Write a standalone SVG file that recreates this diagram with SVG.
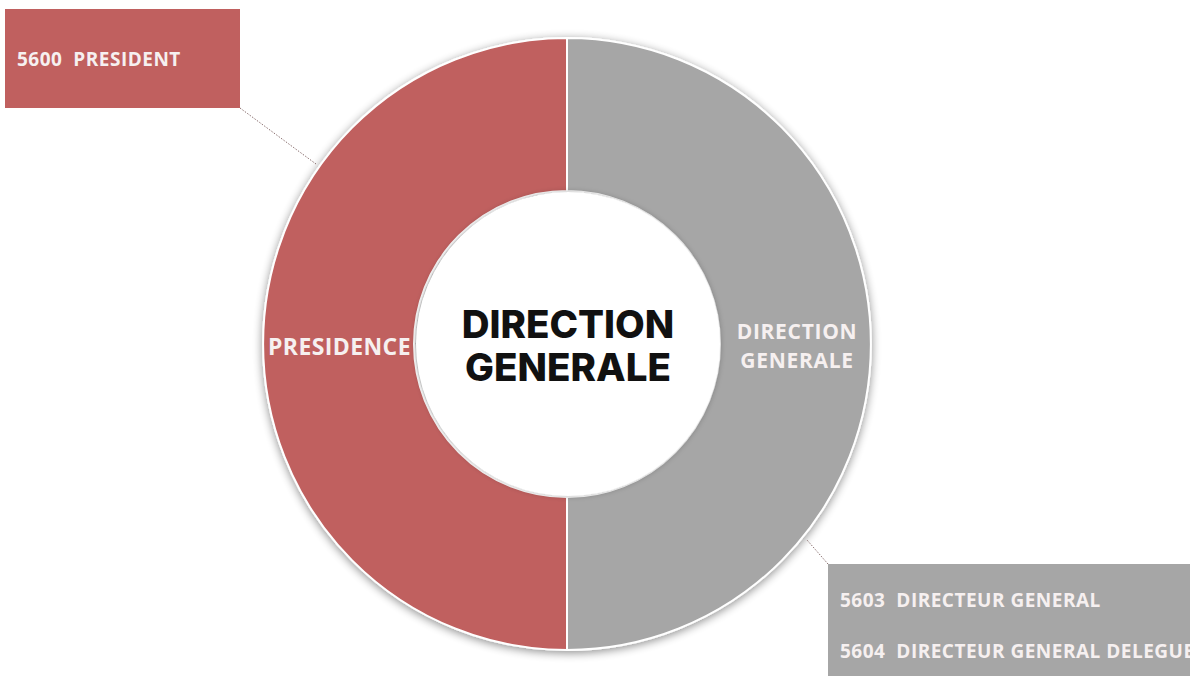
<svg xmlns="http://www.w3.org/2000/svg" width="1194" height="677" viewBox="0 0 1194 677">
<defs>
<filter id="sh" x="-20%" y="-20%" width="140%" height="140%">
<feGaussianBlur in="SourceAlpha" stdDeviation="5"/>
<feOffset dx="0" dy="2"/>
<feComponentTransfer><feFuncA type="linear" slope="0.45"/></feComponentTransfer>
<feMerge><feMergeNode/><feMergeNode in="SourceGraphic"/></feMerge>
</filter>
<filter id="ish" x="-20%" y="-20%" width="140%" height="140%">
<feGaussianBlur in="SourceAlpha" stdDeviation="3"/>
<feComponentTransfer><feFuncA type="linear" slope="0.3"/></feComponentTransfer>
<feMerge><feMergeNode/><feMergeNode in="SourceGraphic"/></feMerge>
</filter>
</defs>
<style>
.seg{stroke:#ffffff;stroke-width:2}
.red{fill:#C0605F}
.gray{fill:#A6A6A6}
.lbl{font-family:"Open Sans","Liberation Sans",sans-serif;font-weight:700;fill:#F6F0F0;white-space:pre}
.box{font-size:19px;letter-spacing:0.5px}
.ctr{font-family:"Inter","Liberation Sans",sans-serif;font-weight:800;fill:#111111;text-anchor:middle;font-size:38.5px}
.conn{stroke:#8A7070;stroke-width:1;stroke-dasharray:1.5 1.5;fill:none}
</style>
<rect width="1194" height="677" fill="#ffffff"/>
<g id="ring" filter="url(#sh)">
<path class="seg red" d="M567,38 A304,306 0 0 0 567,650 L567,497 A153,153 0 0 1 567,191 Z"/>
<path class="seg gray" d="M567,38 A304,306 0 0 1 567,650 L567,497 A153,153 0 0 0 567,191 Z"/>
</g>
<g id="center">
<circle cx="568" cy="344" r="152" fill="#ffffff" filter="url(#ish)"/>
<text class="ctr" x="568" y="338">DIRECTION</text>
<text class="ctr" x="568" y="381">GENERALE</text>
</g>
<g id="presidence-label">
<text class="lbl" x="268" y="355" font-size="23" letter-spacing="0.4">PRESIDENCE</text>
</g>
<g id="dg-label">
<text class="lbl" x="797" y="339" font-size="21" letter-spacing="0.7" text-anchor="middle">DIRECTION</text>
<text class="lbl" x="797" y="368" font-size="21" letter-spacing="0.7" text-anchor="middle">GENERALE</text>
</g>
<g id="connectors">
<line class="conn" x1="240" y1="108" x2="316" y2="164"/>
<line class="conn" x1="828" y1="564" x2="807" y2="540"/>
</g>
<g id="president-box">
<rect x="5" y="9" width="235" height="99" class="red"/>
<text class="lbl box" x="17" y="66" xml:space="preserve">5600  PRESIDENT</text>
</g>
<g id="dg-box">
<clipPath id="cb"><rect x="828" y="564" width="362" height="113"/></clipPath>
<rect x="828" y="564" width="362" height="112" class="gray"/>
<g clip-path="url(#cb)">
<text class="lbl box" x="840" y="607" xml:space="preserve">5603  DIRECTEUR GENERAL</text>
<text class="lbl box" x="840" y="658" xml:space="preserve">5604  DIRECTEUR GENERAL DELEGUE</text>
</g>
</g>
</svg>
